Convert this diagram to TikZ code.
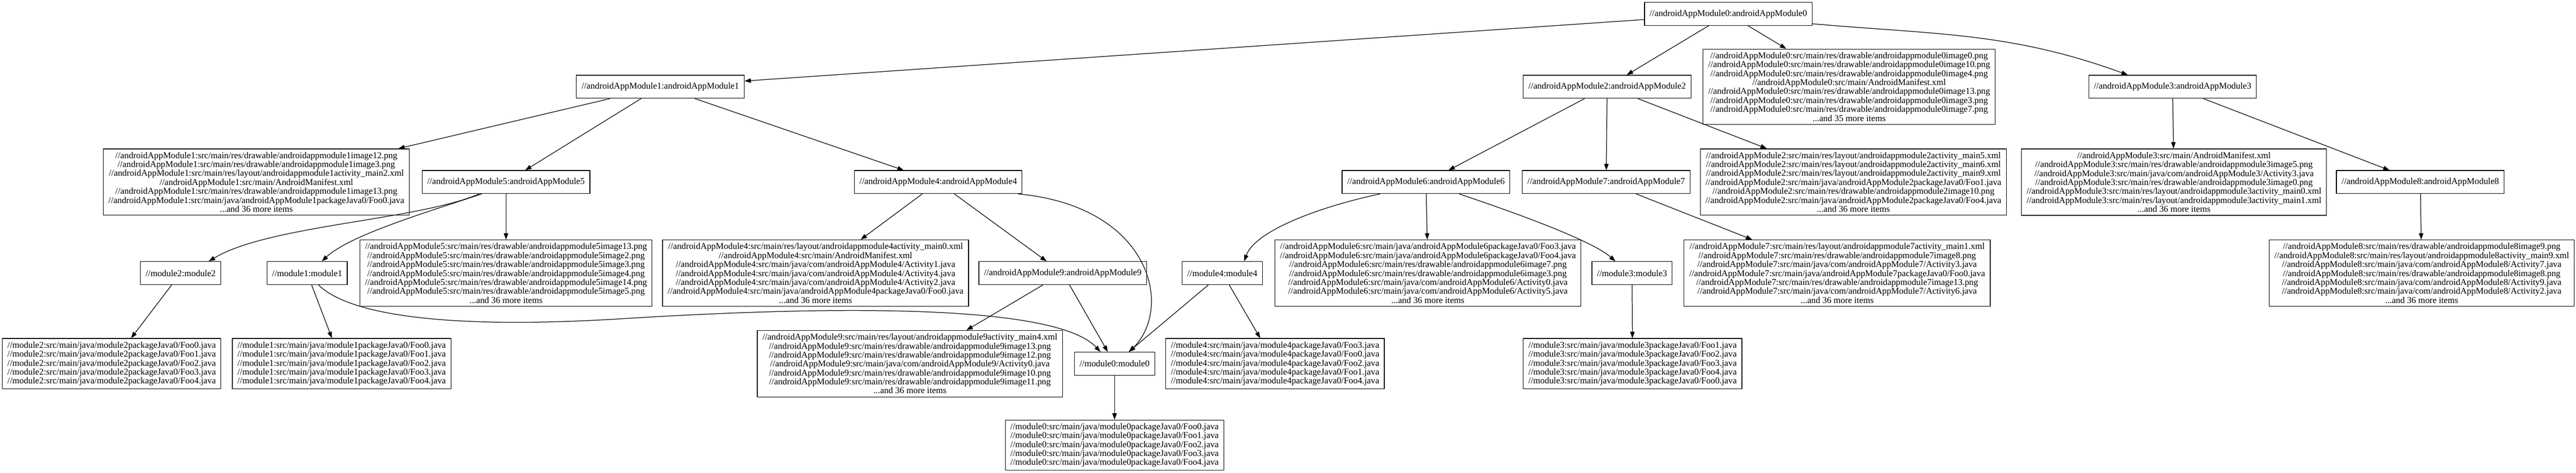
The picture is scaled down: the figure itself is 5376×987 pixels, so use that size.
\documentclass[tikz,border=0pt]{standalone}
\usepackage{fontspec}
\setmainfont{Liberation Serif}
\usetikzlibrary{arrows.meta}

\begin{document}
\begin{tikzpicture}[
      x=0.75pt, y=-0.75pt,
      target/.style={draw,line width=1pt,inner xsep=8pt,inner ysep=5pt,minimum height=36pt,align=center,font=\fontsize{14pt}{14pt}\selectfont},
      files/.style={target},
      dep/.style={line width=1pt,->,>={Triangle[length=10pt,width=7pt]}}
    ]
    \useasboundingbox (0,0) rectangle (5376,987);
    % Draw the targets.
    \node[target] (am0) at (3607,29)  {//androidAppModule0:androidAppModule0};
    \node[target] (am1) at (1378,181) {//androidAppModule1:androidAppModule1};
    \node[target] (am2) at (3354,181) {//androidAppModule2:androidAppModule2};
    \node[target] (am3) at (4534,181) {//androidAppModule3:androidAppModule3};
    \node[target] (am5) at (1056,380) {//androidAppModule5:androidAppModule5};
    \node[target] (am4) at (1958,380) {//androidAppModule4:androidAppModule4};
    \node[target] (am6) at (2976,380) {//androidAppModule6:androidAppModule6};
    \node[target] (am7) at (3352,380) {//androidAppModule7:androidAppModule7};
    \node[target] (am8) at (5051,380) {//androidAppModule8:androidAppModule8};
    \node[target] (m2)  at (377,570)  {//module2:module2};
    \node[target] (m1)  at (641,570)  {//module1:module1};
    \node[target] (am9) at (2218,570) {//androidAppModule9:androidAppModule9};
    \node[target] (m4)  at (2551,570) {//module4:module4};
    \node[target] (m3)  at (3406,570) {//module3:module3};
    \node[target] (m0)  at (2326,759) {//module0:module0};
    % Draw the file lists.
    \node[files] (am0files) at (3859,181) {//androidAppModule0:src/main/res/drawable/androidappmodule0image0.png\\//androidAppModule0:src/main/res/drawable/androidappmodule0image10.png\\//androidAppModule0:src/main/res/drawable/androidappmodule0image4.png\\//androidAppModule0:src/main/AndroidManifest.xml\\//androidAppModule0:src/main/res/drawable/androidappmodule0image13.png\\//androidAppModule0:src/main/res/drawable/androidappmodule0image3.png\\//androidAppModule0:src/main/res/drawable/androidappmodule0image7.png\\...and 35 more items};
    \node[files] (am1files) at (535,380) {//androidAppModule1:src/main/res/drawable/androidappmodule1image12.png\\//androidAppModule1:src/main/res/drawable/androidappmodule1image3.png\\//androidAppModule1:src/main/res/layout/androidappmodule1activity\_main2.xml\\//androidAppModule1:src/main/AndroidManifest.xml\\//androidAppModule1:src/main/res/drawable/androidappmodule1image13.png\\//androidAppModule1:src/main/java/androidAppModule1packageJava0/Foo0.java\\...and 36 more items};
    \node[files] (am2files) at (3868,380) {//androidAppModule2:src/main/res/layout/androidappmodule2activity\_main5.xml\\//androidAppModule2:src/main/res/layout/androidappmodule2activity\_main6.xml\\//androidAppModule2:src/main/res/layout/androidappmodule2activity\_main9.xml\\//androidAppModule2:src/main/java/androidAppModule2packageJava0/Foo1.java\\//androidAppModule2:src/main/res/drawable/androidappmodule2image10.png\\//androidAppModule2:src/main/java/androidAppModule2packageJava0/Foo4.java\\...and 36 more items};
    \node[files] (am3files) at (4537,380) {//androidAppModule3:src/main/AndroidManifest.xml\\//androidAppModule3:src/main/res/drawable/androidappmodule3image5.png\\//androidAppModule3:src/main/java/com/androidAppModule3/Activity3.java\\//androidAppModule3:src/main/res/drawable/androidappmodule3image0.png\\//androidAppModule3:src/main/res/layout/androidappmodule3activity\_main0.xml\\//androidAppModule3:src/main/res/layout/androidappmodule3activity\_main1.xml\\...and 36 more items};
    \node[files] (am5files) at (1056,570) {//androidAppModule5:src/main/res/drawable/androidappmodule5image13.png\\//androidAppModule5:src/main/res/drawable/androidappmodule5image2.png\\//androidAppModule5:src/main/res/drawable/androidappmodule5image3.png\\//androidAppModule5:src/main/res/drawable/androidappmodule5image4.png\\//androidAppModule5:src/main/res/drawable/androidappmodule5image14.png\\//androidAppModule5:src/main/res/drawable/androidappmodule5image5.png\\...and 36 more items};
    \node[files] (am4files) at (1702,570) {//androidAppModule4:src/main/res/layout/androidappmodule4activity\_main0.xml\\//androidAppModule4:src/main/AndroidManifest.xml\\//androidAppModule4:src/main/java/com/androidAppModule4/Activity1.java\\//androidAppModule4:src/main/java/com/androidAppModule4/Activity4.java\\//androidAppModule4:src/main/java/com/androidAppModule4/Activity2.java\\//androidAppModule4:src/main/java/androidAppModule4packageJava0/Foo0.java\\...and 36 more items};
    \node[files] (am6files) at (2980,570) {//androidAppModule6:src/main/java/androidAppModule6packageJava0/Foo3.java\\//androidAppModule6:src/main/java/androidAppModule6packageJava0/Foo4.java\\//androidAppModule6:src/main/res/drawable/androidappmodule6image7.png\\//androidAppModule6:src/main/res/drawable/androidappmodule6image3.png\\//androidAppModule6:src/main/java/com/androidAppModule6/Activity0.java\\//androidAppModule6:src/main/java/com/androidAppModule6/Activity5.java\\...and 36 more items};
    \node[files] (am7files) at (3834,570) {//androidAppModule7:src/main/res/layout/androidappmodule7activity\_main1.xml\\//androidAppModule7:src/main/res/drawable/androidappmodule7image8.png\\//androidAppModule7:src/main/java/com/androidAppModule7/Activity3.java\\//androidAppModule7:src/main/java/androidAppModule7packageJava0/Foo0.java\\//androidAppModule7:src/main/res/drawable/androidappmodule7image13.png\\//androidAppModule7:src/main/java/com/androidAppModule7/Activity6.java\\...and 36 more items};
    \node[files] (am8files) at (5054,570) {//androidAppModule8:src/main/res/drawable/androidappmodule8image9.png\\//androidAppModule8:src/main/res/layout/androidappmodule8activity\_main9.xml\\//androidAppModule8:src/main/java/com/androidAppModule8/Activity7.java\\//androidAppModule8:src/main/res/drawable/androidappmodule8image8.png\\//androidAppModule8:src/main/java/com/androidAppModule8/Activity9.java\\//androidAppModule8:src/main/java/com/androidAppModule8/Activity2.java\\...and 36 more items};
    \node[files] (am9files) at (1899,759) {//androidAppModule9:src/main/res/layout/androidappmodule9activity\_main4.xml\\//androidAppModule9:src/main/res/drawable/androidappmodule9image13.png\\//androidAppModule9:src/main/res/drawable/androidappmodule9image12.png\\//androidAppModule9:src/main/java/com/androidAppModule9/Activity0.java\\//androidAppModule9:src/main/res/drawable/androidappmodule9image10.png\\//androidAppModule9:src/main/res/drawable/androidappmodule9image11.png\\...and 36 more items};
    \node[files] (m2files) at (233,759) {//module2:src/main/java/module2packageJava0/Foo0.java\\//module2:src/main/java/module2packageJava0/Foo1.java\\//module2:src/main/java/module2packageJava0/Foo2.java\\//module2:src/main/java/module2packageJava0/Foo3.java\\//module2:src/main/java/module2packageJava0/Foo4.java};
    \node[files] (m1files) at (713,759) {//module1:src/main/java/module1packageJava0/Foo0.java\\//module1:src/main/java/module1packageJava0/Foo1.java\\//module1:src/main/java/module1packageJava0/Foo2.java\\//module1:src/main/java/module1packageJava0/Foo3.java\\//module1:src/main/java/module1packageJava0/Foo4.java};
    \node[files] (m4files) at (2661,759) {//module4:src/main/java/module4packageJava0/Foo3.java\\//module4:src/main/java/module4packageJava0/Foo0.java\\//module4:src/main/java/module4packageJava0/Foo2.java\\//module4:src/main/java/module4packageJava0/Foo1.java\\//module4:src/main/java/module4packageJava0/Foo4.java};
    \node[files] (m3files) at (3407,759) {//module3:src/main/java/module3packageJava0/Foo1.java\\//module3:src/main/java/module3packageJava0/Foo2.java\\//module3:src/main/java/module3packageJava0/Foo3.java\\//module3:src/main/java/module3packageJava0/Foo4.java\\//module3:src/main/java/module3packageJava0/Foo0.java};
    \node[files] (m0files) at (2326,929) {//module0:src/main/java/module0packageJava0/Foo0.java\\//module0:src/main/java/module0packageJava0/Foo1.java\\//module0:src/main/java/module0packageJava0/Foo2.java\\//module0:src/main/java/module0packageJava0/Foo3.java\\//module0:src/main/java/module0packageJava0/Foo4.java};
    % Draw the dependencies.
    \draw[dep] (am0) -- (am1);
    \draw[dep] (am0) -- (am2);
    \draw[dep] (am0) -- (am0files);
    \draw[dep] ([yshift=3pt]am0.south east) to[out=-5,in=160] ([xshift=-70pt]am3.north);
    \draw[dep] (am1) -- (am1files);
    \draw[dep] (am1) -- (am5);
    \draw[dep] (am1) -- (am4);
    \draw[dep] (am2) -- (am6);
    \draw[dep] (am2) -- (am7);
    \draw[dep] (am2) -- (am2files);
    \draw[dep] (am3) -- (am3files);
    \draw[dep] (am3) -- (am8);
    \draw[dep] (am8) -- (am8files);
    \draw[dep] ([xshift=-42pt]am5.south) .. controls (870,460) and (560,470) .. ([xshift=44pt]m2.north);
    \draw[dep] ([xshift=-38pt]am5.south) .. controls (900,440) and (730,490) .. ([xshift=23pt]m1.north);
    \draw[dep] (am5) -- (am5files);
    \draw[dep] (am4) -- (am4files);
    \draw[dep] (am4) -- (am9);
    \draw[dep] ([xshift=-7pt]am4.south east) .. controls (2400,430) and (2450,640) .. ([xshift=23pt]m0.north);
    \draw[dep] (am6) -- (am6files);
    \draw[dep] ([xshift=-72pt]am6.south) .. controls (2760,430) and (2620,480) .. ([xshift=34pt]m4.north);
    \draw[dep] ([xshift=52pt]am6.south) .. controls (3150,440) and (3320,500) .. ([xshift=-26pt]m3.north);
    \draw[dep] (am7) -- (am7files);
    \draw[dep] (m2) -- (m2files);
    \draw[dep] (m1) -- (m1files);
    \draw[dep] ([xshift=18pt]m1.south) .. controls (720,650) and (900,690) .. (1300,665)
                                        .. controls (1700,640) and (2200,630) .. ([xshift=-22pt]m0.north);
    \draw[dep] (am9) -- (am9files);
    \draw[dep] (am9) -- (m0);
    \draw[dep] (m4) -- (m0);
    \draw[dep] (m4) -- (m4files);
    \draw[dep] (m3) -- (m3files);
    \draw[dep] (m0) -- (m0files);
\end{tikzpicture}
\end{document}
